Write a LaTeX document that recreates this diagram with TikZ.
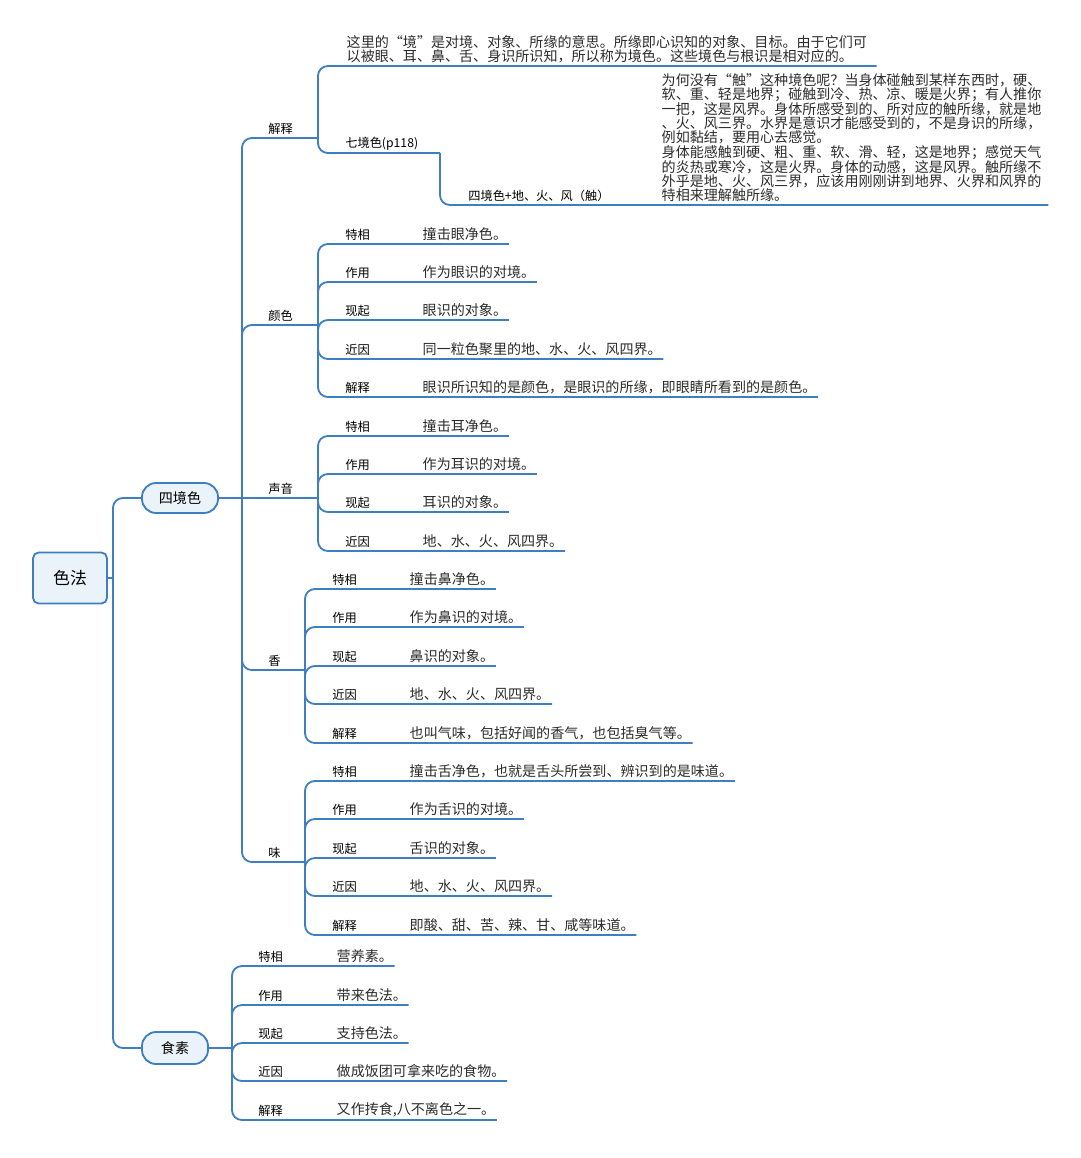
\documentclass[tikz,border=0pt]{standalone}
\usepackage{fontspec}
\setmainfont{Noto Sans CJK SC}
\usepackage{tikz}
\usetikzlibrary{positioning}

\definecolor{mapblue}{HTML}{3D7FC2}
\definecolor{mapfill}{HTML}{EAF2FA}
\definecolor{mapink}{HTML}{2B2B2B}

\begin{document}
\begin{tikzpicture}[
    x=0.025cm, y=-0.025cm,
    br/.style={draw=mapblue, line width=1.3pt, rounded corners=7pt},
    rootbox/.style={draw=mapblue, line width=1.3pt, fill=mapfill, rounded corners=4pt, minimum width=1.85cm, minimum height=1.275cm, font=\fontsize{12}{14}\selectfont},
    pill/.style={draw=mapblue, line width=1.3pt, fill=mapfill, rounded corners=10pt, minimum height=0.75cm, font=\fontsize{10}{12}\selectfont},
    lbl/.style={anchor=south west, inner xsep=0pt, inner ysep=2pt, font=\fontsize{8.7}{10}\selectfont, text=black},
    txt/.style={anchor=south west, inner xsep=1pt, inner ysep=2pt, font=\fontsize{10}{10}\selectfont, text=mapink}
]
\useasboundingbox (0,0) rectangle (1080,1158);

% root and first level
\node[rootbox] (root) at (70,578) {色法};
\node[pill, minimum width=1.9cm] (sj) at (180,498) {四境色};
\node[pill, minimum width=1.65cm, minimum height=0.8cm] (ss) at (175,1048) {食素};
\coordinate (rt) at (113,578);
\draw[br] (root.east) -- (rt);
\draw[br] (sj.west) -| (rt) |- (ss.west);

% second level under 四境色
\coordinate (mf) at (242,498);
\coordinate (js_r) at (318,138);
\coordinate (ys_r) at (318,325);
\coordinate (sy_r) at (318,498);
\coordinate (xg_r) at (305,670);
\coordinate (wd_r) at (305,862);
\node[lbl] (js) at (268,138) {解释};
\node[lbl] (ys) at (268,325) {颜色};
\node[lbl] (sy) at (268,498) {声音};
\node[lbl] (xg) at (268,670) {香};
\node[lbl] (wd) at (268,862) {味};
\draw[br] (sj.east) -- (sy_r);
\draw[br] (js_r) -| (mf);
\draw[br] (ys_r) -| (mf);
\draw[br] (mf) |- (xg_r);
\draw[br] (mf) |- (wd_r);

% 解释
\node[txt, text width=13.2cm, align=left] (js1) at (345,66)
      {这里的“境”是对境、对象、所缘的意思。所缘即心识知的对象、目标。由于它们可\\以被眼、耳、鼻、舌、身识所识知，所以称为境色。这些境色与根识是相对应的。};
\draw[br] (js_r) |- (js1.south east);
\node[lbl] (js2) at (345,153) {七境色(p118)};
\coordinate (js2_r) at (440,153);
\draw[br] (js_r) |- (js2_r);
\node[lbl] (js3) at (468,205) {四境色+地、火、风（触）};
\node[txt, text width=9.625cm, align=left] (js3d) at (660,205)
      {为何没有“触”这种境色呢？当身体碰触到某样东西时，硬、\\
       软、重、轻是地界；碰触到冷、热、凉、暖是火界；有人推你\\
       一把，这是风界。身体所感受到的、所对应的触所缘，就是地\\
       、火、风三界。水界是意识才能感受到的，不是身识的所缘，\\
       例如黏结，要用心去感觉。\\
       身体能感触到硬、粗、重、软、滑、轻，这是地界；感觉天气\\
       的炎热或寒冷，这是火界。身体的动感，这是风界。触所缘不\\
       外乎是地、火、风三界，应该用刚刚讲到地界、火界和风界的\\
       特相来理解触所缘。};
\draw[br] (js2_r) |- (js3d.south east);

% 颜色
\node[lbl] (ys1) at (345,244) {特相};
\node[txt] (ys1d) at (421,244) {撞击眼净色。};
\draw[br] (ys_r) |- (ys1d.south east);
\node[lbl] (ys2) at (345,282) {作用};
\node[txt] (ys2d) at (421,282) {作为眼识的对境。};
\draw[br] (ys_r) |- (ys2d.south east);
\node[lbl] (ys3) at (345,320) {现起};
\node[txt] (ys3d) at (421,320) {眼识的对象。};
\draw[br] (ys_r) |- (ys3d.south east);
\node[lbl] (ys4) at (345,359) {近因};
\node[txt] (ys4d) at (421,359) {同一粒色聚里的地、水、火、风四界。};
\draw[br] (ys_r) |- (ys4d.south east);
\node[lbl] (ys5) at (345,397) {解释};
\node[txt] (ys5d) at (421,397) {眼识所识知的是颜色，是眼识的所缘，即眼睛所看到的是颜色。};
\draw[br] (ys_r) |- (ys5d.south east);

% 声音
\node[lbl] (sy1) at (345,436) {特相};
\node[txt] (sy1d) at (421,436) {撞击耳净色。};
\draw[br] (sy_r) |- (sy1d.south east);
\node[lbl] (sy2) at (345,474) {作用};
\node[txt] (sy2d) at (421,474) {作为耳识的对境。};
\draw[br] (sy_r) |- (sy2d.south east);
\node[lbl] (sy3) at (345,512) {现起};
\node[txt] (sy3d) at (421,512) {耳识的对象。};
\draw[br] (sy_r) |- (sy3d.south east);
\node[lbl] (sy4) at (345,551) {近因};
\node[txt] (sy4d) at (421,551) {地、水、火、风四界。};
\draw[br] (sy_r) |- (sy4d.south east);

% 香
\node[lbl] (xg1) at (332,589) {特相};
\node[txt] (xg1d) at (408,589) {撞击鼻净色。};
\draw[br] (xg_r) |- (xg1d.south east);
\node[lbl] (xg2) at (332,627) {作用};
\node[txt] (xg2d) at (408,627) {作为鼻识的对境。};
\draw[br] (xg_r) |- (xg2d.south east);
\node[lbl] (xg3) at (332,666) {现起};
\node[txt] (xg3d) at (408,666) {鼻识的对象。};
\draw[br] (xg_r) |- (xg3d.south east);
\node[lbl] (xg4) at (332,704) {近因};
\node[txt] (xg4d) at (408,704) {地、水、火、风四界。};
\draw[br] (xg_r) |- (xg4d.south east);
\node[lbl] (xg5) at (332,743) {解释};
\node[txt] (xg5d) at (408,743) {也叫气味，包括好闻的香气，也包括臭气等。};
\draw[br] (xg_r) |- (xg5d.south east);

% 味
\node[lbl] (wd1) at (332,781) {特相};
\node[txt] (wd1d) at (408,781) {撞击舌净色，也就是舌头所尝到、辨识到的是味道。};
\draw[br] (wd_r) |- (wd1d.south east);
\node[lbl] (wd2) at (332,819) {作用};
\node[txt] (wd2d) at (408,819) {作为舌识的对境。};
\draw[br] (wd_r) |- (wd2d.south east);
\node[lbl] (wd3) at (332,858) {现起};
\node[txt] (wd3d) at (408,858) {舌识的对象。};
\draw[br] (wd_r) |- (wd3d.south east);
\node[lbl] (wd4) at (332,896) {近因};
\node[txt] (wd4d) at (408,896) {地、水、火、风四界。};
\draw[br] (wd_r) |- (wd4d.south east);
\node[lbl] (wd5) at (332,935) {解释};
\node[txt] (wd5d) at (408,935) {即酸、甜、苦、辣、甘、咸等味道。};
\draw[br] (wd_r) |- (wd5d.south east);

% 食素
\coordinate (ss_r) at (232,1048);
\draw[br] (ss.east) -- (ss_r);
\node[lbl] (ss1) at (258,966) {特相};
\node[txt] (ss1d) at (335,966) {营养素。};
\draw[br] (ss_r) |- (ss1d.south east);
\node[lbl] (ss2) at (258,1005) {作用};
\node[txt] (ss2d) at (335,1005) {带来色法。};
\draw[br] (ss_r) |- (ss2d.south east);
\node[lbl] (ss3) at (258,1043) {现起};
\node[txt] (ss3d) at (335,1043) {支持色法。};
\draw[br] (ss_r) |- (ss3d.south east);
\node[lbl] (ss4) at (258,1081) {近因};
\node[txt] (ss4d) at (335,1081) {做成饭团可拿来吃的食物。};
\draw[br] (ss_r) |- (ss4d.south east);
\node[lbl] (ss5) at (258,1120) {解释};
\node[txt] (ss5d) at (335,1120) {又作抟食,八不离色之一。};
\draw[br] (ss_r) |- (ss5d.south east);
\end{tikzpicture}
\end{document}
